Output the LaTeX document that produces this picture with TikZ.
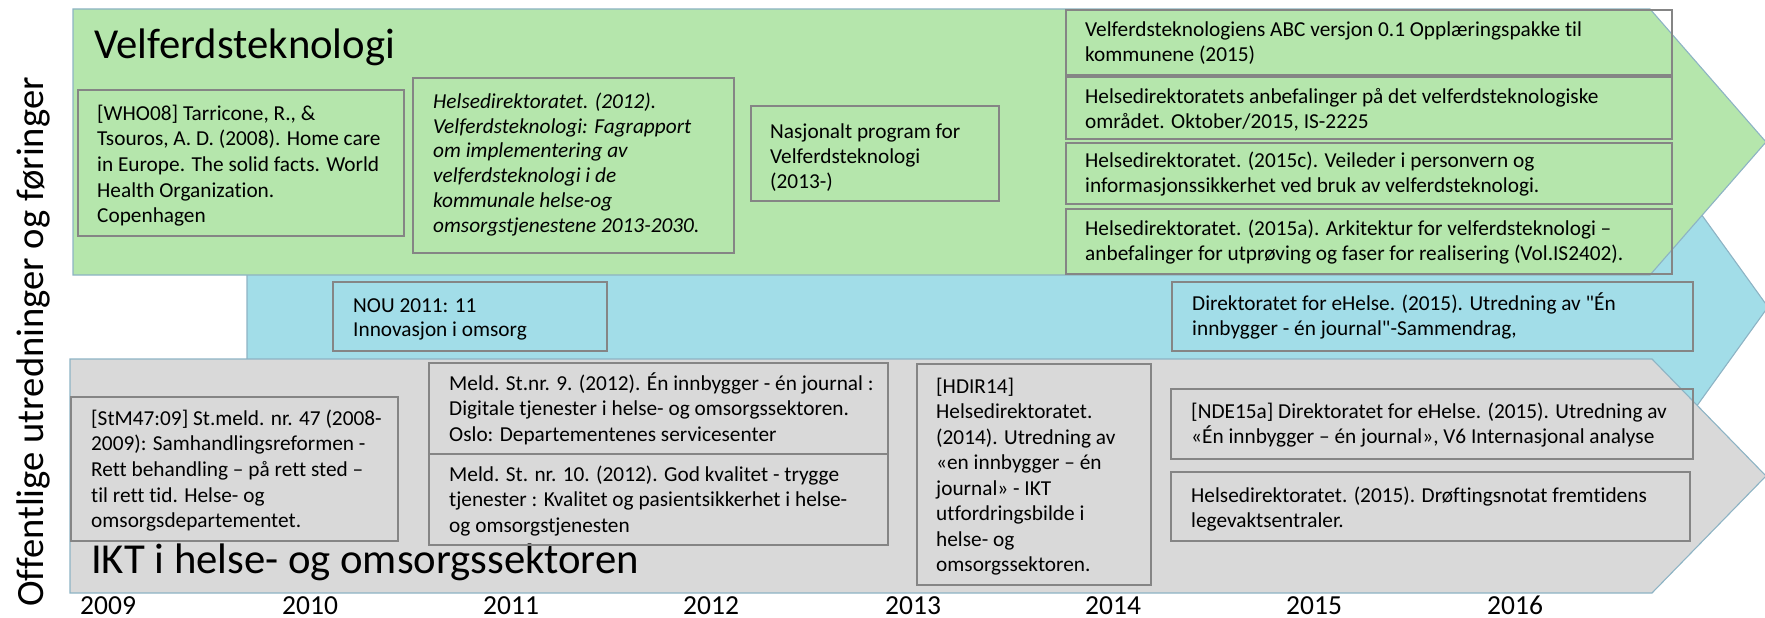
\documentclass[tikz,border=0pt]{standalone}
\usepackage{fontspec}
\setmainfont{Carlito}[Ligatures={TeXOff,CommonOff}]
\definecolor{bandgreen}{HTML}{B5E6AC}
\definecolor{bandblue}{HTML}{A2DDE8}
\definecolor{bandgray}{HTML}{D9D9D9}
\definecolor{bandedge}{HTML}{8DB3C4}
\definecolor{boxedge}{HTML}{858585}
\newcommand\tstr{\rule{0pt}{20pt}}
\begin{document}
\begin{tikzpicture}[x=1pt,y=-1pt,
  band/.style={draw=bandedge,line width=1.1pt,line join=miter},
  refbox/.style={draw=boxedge,line width=1.8pt},
  reftext/.style={anchor=north west,inner sep=0pt,align=left,font=\fontsize{21.3}{25.6}\selectfont},
  title/.style={anchor=base west,inner sep=0pt,font=\fontsize{42.7}{50}\selectfont},
  year/.style={anchor=base west,inner sep=0pt,font=\fontsize{27.5}{33}\selectfont}]
\useasboundingbox (0,0) rectangle (1765,618);
% bands
\filldraw[band,fill=bandblue] (247,200) -- (1691,200) -- (1768,307) -- (1691,414) -- (247,414) -- cycle;
\filldraw[band,fill=bandgreen] (73,9) -- (1650,9) -- (1766,142) -- (1650,275) -- (73,275) -- cycle;
\filldraw[band,fill=bandgray] (70,359) -- (1652,359) -- (1766,476) -- (1652,593) -- (70,593) -- cycle;
% titles
\node[title] (tvel) at (94,59) {Velferdsteknologi};
\node[title] (tikt) at (91,573) {IKT i helse- og omsorgssektoren};
\node[anchor=center,inner sep=0pt,rotate=90,font=\fontsize{38.6}{46}\selectfont] (side) at (33,342) {Offentlige utredninger og føringer};
% green boxes
\draw[refbox] (78,90) rectangle (404,236);
\node[reftext] (who) at (97,100) {\tstr[WHO08] Tarricone, R., \&\\Tsouros, A. D. (2008). Home care\\in Europe. The solid facts. World\\Health Organization.\\Copenhagen};
\draw[refbox] (413,78) rectangle (734,253);
\node[reftext,font=\fontsize{21.3}{24.8}\selectfont\itshape] (hd12) at (433,88) {\tstr Helsedirektoratet. (2012).\\Velferdsteknologi: Fagrapport\\om implementering av\\velferdsteknologi i de\\kommunale helse-og\\omsorgstjenestene 2013-2030.};
\draw[refbox] (751,106) rectangle (999,201);
\node[reftext,font=\fontsize{21.3}{25}\selectfont] (nasj) at (770,118) {\tstr Nasjonalt program for\\Velferdsteknologi\\(2013-)};
\draw[refbox] (1066,10) rectangle (1672,75);
\node[reftext] (abc) at (1085,16) {\tstr Velferdsteknologiens ABC versjon 0.1 Opplæringspakke til\\kommunene (2015)};
\draw[refbox] (1066,77) rectangle (1672,139);
\node[reftext] (anb) at (1085,83) {\tstr Helsedirektoratets anbefalinger på det velferdsteknologiske\\området. Oktober/2015, IS-2225};
\draw[refbox] (1066,143) rectangle (1672,204);
\node[reftext] (veil) at (1085,147) {\tstr Helsedirektoratet. (2015c). Veileder i personvern og\\informasjonssikkerhet ved bruk av velferdsteknologi.};
\draw[refbox] (1066,209) rectangle (1672,274);
\node[reftext] (ark) at (1085,215) {\tstr Helsedirektoratet. (2015a). Arkitektur for velferdsteknologi –\\anbefalinger for utprøving og faser for realisering (Vol.IS2402).};
% blue boxes
\draw[refbox] (333,282) rectangle (607,351);
\node[reftext,font=\fontsize{21.3}{24.5}\selectfont] (nou) at (353,292) {\tstr NOU 2011: 11\\Innovasjon i omsorg};
\draw[refbox] (1172,282) rectangle (1693,351);
\node[reftext] (dir) at (1192,290) {\tstr Direktoratet for eHelse. (2015). Utredning av "Én\\innbygger - én journal"-Sammendrag,};
% gray boxes
\draw[refbox] (71,397) rectangle (398,541);
\node[reftext] (stm) at (91,405) {\tstr[StM47:09] St.meld. nr. 47 (2008-\\2009): Samhandlingsreformen -\\Rett behandling – på rett sted –\\til rett tid. Helse- og\\omsorgsdepartementet.};
\draw[refbox] (429,363) rectangle (888,454);
\node[reftext] (m9) at (449,370) {\tstr Meld. St.nr. 9. (2012). Én innbygger - én journal :\\Digitale tjenester i helse- og omsorgssektoren.\\Oslo: Departementenes servicesenter};
\draw[refbox] (429,454) rectangle (888,545);
\node[reftext] (m10) at (449,461) {\tstr Meld. St. nr. 10. (2012). God kvalitet - trygge\\tjenester : Kvalitet og pasientsikkerhet i helse-\\og omsorgstjenesten};
\draw[refbox] (917,364) rectangle (1151,585);
\node[reftext,font=\fontsize{21.3}{25.5}\selectfont] (hdir) at (936,373) {\tstr[HDIR14]\\Helsedirektoratet.\\(2014). Utredning av\\«en innbygger – én\\journal» - IKT\\utfordringsbilde i\\helse- og\\omsorgssektoren.};
\draw[refbox] (1171,389) rectangle (1693,459);
\node[reftext] (nde) at (1191,398) {\tstr[NDE15a] Direktoratet for eHelse. (2015). Utredning av\\«Én innbygger – én journal», V6 Internasjonal analyse};
\draw[refbox] (1171,472) rectangle (1690,541);
\node[reftext] (drof) at (1191,482) {\tstr Helsedirektoratet. (2015). Drøftingsnotat fremtidens\\legevaktsentraler.};
% years
\node[year] (y09) at (80,614) {2009};
\node[year] (y10) at (282,614) {2010};
\node[year] (y11) at (483,614) {2011};
\node[year] (y12) at (683,614) {2012};
\node[year] (y13) at (885,614) {2013};
\node[year] (y14) at (1085,614) {2014};
\node[year] (y15) at (1286,614) {2015};
\node[year] (y16) at (1487,614) {2016};
\end{tikzpicture}
\end{document}
